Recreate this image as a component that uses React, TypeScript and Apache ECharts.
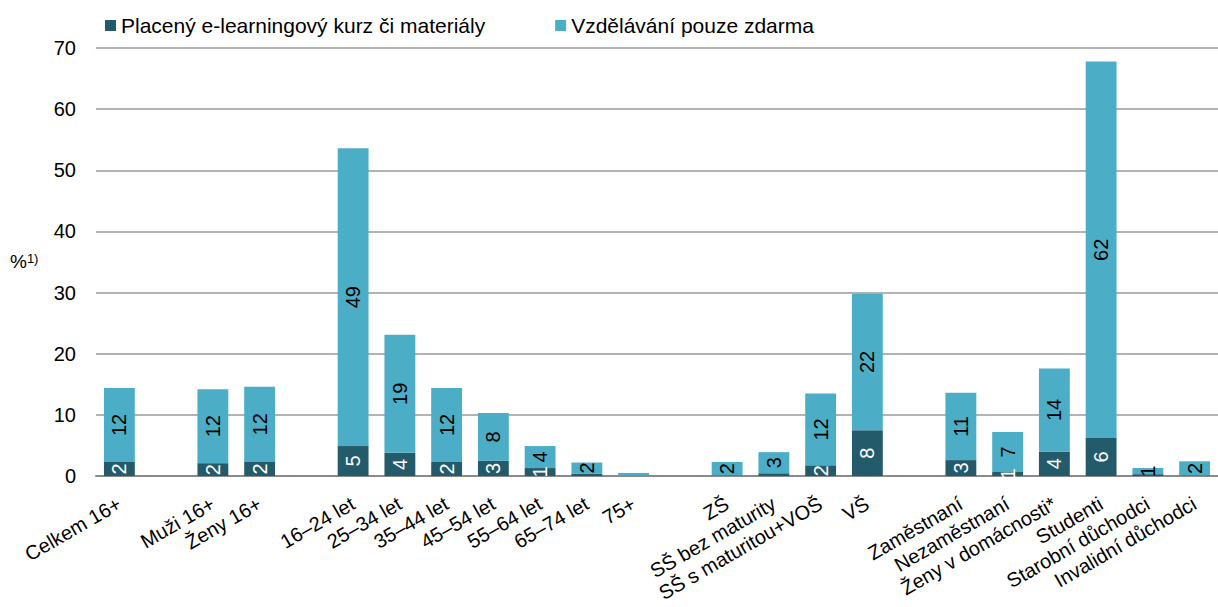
import React, { useEffect, useRef } from "react";
import * as echarts from "echarts";

const categories = [
  "Celkem 16+", "", "Muži 16+", "Ženy 16+", "",
  "16–24 let", "25–34 let", "35–44 let", "45–54 let", "55–64 let", "65–74 let", "75+", "",
  "ZŠ", "SŠ bez maturity", "SŠ s maturitou+VOŠ", "VŠ", "",
  "Zaměstnaní", "Nezaměstnaní", "Ženy v domácnosti*", "Studenti", "Starobní důchodci", "Invalidní důchodci",
];
const paidValues = [
  2.3, null, 2.1, 2.3, null,
  4.9, 3.8, 2.3, 2.5, 1.3, 0.4, 0.05, null,
  0.1, 0.45, 1.75, 7.5, null,
  2.6, 0.65, 4.0, 6.2, 0.3, 0.1,
];
const freeValues = [
  12.1, null, 12.1, 12.3, null,
  48.7, 19.3, 12.1, 7.8, 3.6, 1.8, 0.45, null,
  2.2, 3.45, 11.75, 22.3, null,
  11.0, 6.55, 13.6, 61.6, 1.0, 2.3,
];
const seriesNames = ["Placený e-learningový kurz či materiály", "Vzdělávání pouze zdarma"];
const yTicks = [0, 10, 20, 30, 40, 50, 60, 70];

const DARK = "#235B6B";
const LIGHT = "#4BADC6";
const FONT = "Liberation Sans, Arial, sans-serif";

export default function App() {
  const ref = useRef<HTMLDivElement>(null);
  useEffect(() => {
    if (!ref.current) return;
    const chart = echarts.init(ref.current, undefined, { renderer: "svg" });
    const labelFmt = (p: any) => {
      const v = Math.round(p.value);
      return v >= 1 ? String(v) : "";
    };
    chart.setOption({
      animation: false,
      textStyle: { fontFamily: FONT },
      legend: {
        top: 10,
        left: 100,
        itemWidth: 11,
        itemHeight: 11,
        itemGap: 70,
        icon: "rect",
        textStyle: { fontSize: 21, color: "#000", fontFamily: FONT },
        data: seriesNames,
      },
      grid: { left: 96, top: 48, width: 1125, bottom: 131, containLabel: false },
      graphic: [
        {
          type: "text",
          left: 10,
          top: 252,
          style: {
            text: "{a|%}{b|1)}",
            rich: {
              a: { fontSize: 19, fontFamily: FONT, fill: "#000" },
              b: { fontSize: 13, fontFamily: FONT, fill: "#000", verticalAlign: "top", padding: [0, 0, 6, 0] },
            },
          },
        },
      ],
      xAxis: {
        type: "category",
        data: categories,
        axisLine: { lineStyle: { color: "#8a8a8a", width: 2 } },
        axisTick: { show: false },
        axisLabel: {
          interval: 0,
          rotate: 30,
          fontSize: 20,
          color: "#000",
          fontFamily: FONT,
          margin: 26,
        },
      },
      yAxis: {
        type: "value",
        min: yTicks[0],
        max: yTicks[yTicks.length - 1],
        interval: 10,
        axisLine: { show: false },
        axisTick: { show: false },
        axisLabel: { fontSize: 20, color: "#000", fontFamily: FONT, margin: 20 },
        splitLine: { lineStyle: { color: "#9a9a9a", width: 1.5 } },
      },
      series: [
        {
          name: seriesNames[0],
          type: "bar",
          stack: "s",
          data: paidValues,
          barWidth: "66%",
          itemStyle: { color: DARK },
          label: {
            show: true,
            position: "inside",
            rotate: 90,
            color: "#fff",
            fontSize: 20,
            fontFamily: FONT,
            formatter: labelFmt,
          },
        },
        {
          name: seriesNames[1],
          type: "bar",
          stack: "s",
          data: freeValues,
          barWidth: "66%",
          itemStyle: { color: LIGHT },
          label: {
            show: true,
            position: "inside",
            rotate: 90,
            color: "#000",
            fontSize: 20,
            fontFamily: FONT,
            formatter: labelFmt,
          },
        },
      ],
    });
    return () => chart.dispose();
  }, []);
  return <div ref={ref} style={{ width: 1218, height: 607, position: "absolute", left: 0, top: 0 }} />;
}
